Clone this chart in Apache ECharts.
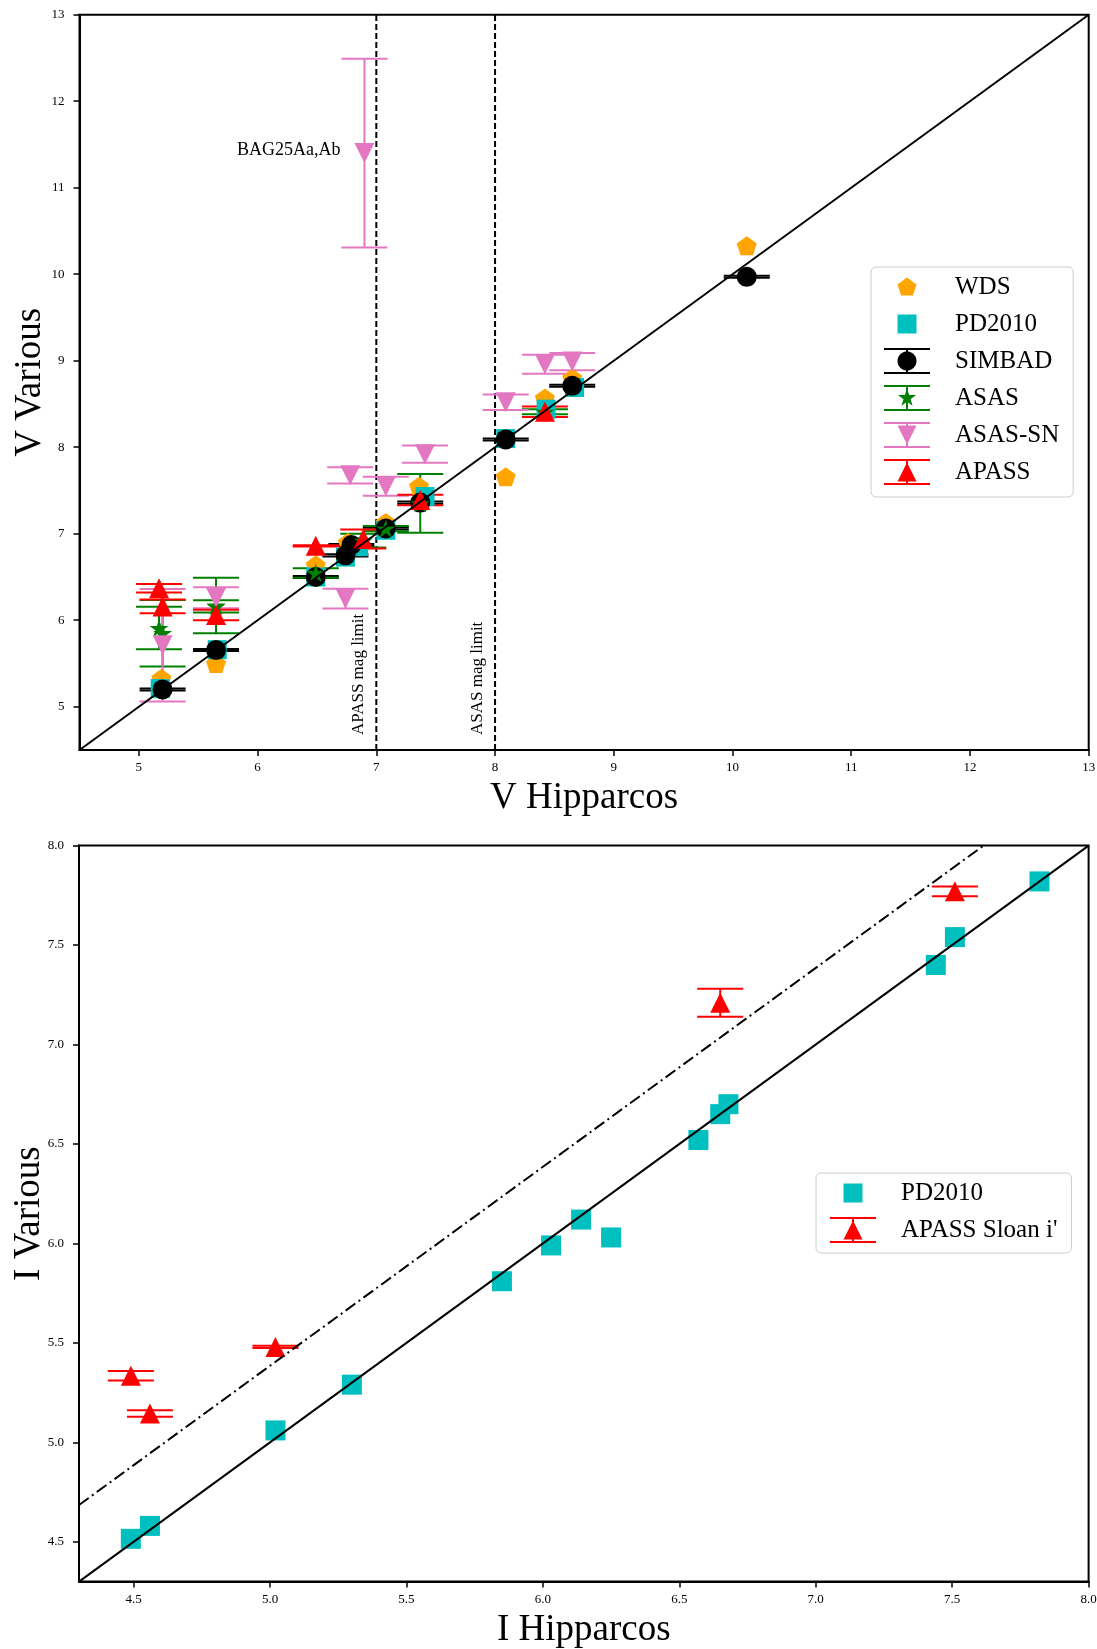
<!DOCTYPE html>
<html>
<head>
<meta charset="utf-8">
<script src="https://cdn.jsdelivr.net/npm/echarts@6/dist/echarts.min.js"></script>
<style>
html,body{margin:0;padding:0;background:#fff;}
#chart{width:1097px;height:1649px;}
</style>
</head>
<body>
<div id="chart"></div>
<script>
// ================= Top panel : V magnitudes =================
const vTicks = [5, 6, 7, 8, 9, 10, 11, 12, 13];
const vMin = 4.5, vMax = 13;

const wdsX = [5.19, 5.65, 6.49, 6.76, 7.08, 7.36, 8.09, 8.42, 8.65, 10.12];
const wdsY = [5.33, 5.50, 6.64, 6.90, 7.13, 7.55, 7.66, 8.57, 8.80, 10.33];

const pdX = [5.18, 5.66, 6.49, 6.74, 6.85, 7.08, 7.41, 8.09, 8.43, 8.67];
const pdY = [5.21, 5.66, 6.50, 6.73, 6.85, 7.04, 7.43, 8.10, 8.44, 8.69];

const simbadX = [5.20, 5.65, 6.49, 6.74, 6.79, 7.08, 7.37, 8.09, 8.65, 10.12];
const simbadY = [5.20, 5.655, 6.50, 6.75, 6.87, 7.06, 7.36, 8.09, 8.71, 9.97];
const simbadErr = [0.012, 0.012, 0.012, 0.012, 0.012, 0.012, 0.012, 0.012, 0.012, 0.012];

const asasX = [5.17, 5.20, 5.65, 5.65, 6.49, 6.89, 7.08, 7.37, 8.42];
const asasY = [5.91, 5.85, 6.17, 6.16, 6.545, 6.92, 7.06, 7.35, 8.41];
const asasErr = [0.245, 0.385, 0.32, 0.07, 0.055, 0.08, 0.03, 0.34, 0.03];

const asasSnX = [5.20, 5.65, 6.74, 6.78, 6.90, 7.08, 7.41, 8.09, 8.42, 8.65];
const asasSnY = [5.71, 6.26, 6.25, 7.675, 11.40, 7.55, 7.92, 8.52, 8.96, 8.99];
const asasSnErr = [0.65, 0.12, 0.115, 0.095, 1.09, 0.11, 0.10, 0.09, 0.11, 0.10];

const apassX = [5.17, 5.20, 5.65, 6.49, 6.89, 7.37, 8.42];
const apassY = [6.37, 6.16, 6.06, 6.86, 6.94, 7.39, 8.41];
const apassErr = [0.05, 0.08, 0.06, 0.008, 0.11, 0.06, 0.06];

const magLimits = [7, 8];
const magLimitLabels = ['APASS mag limit', 'ASAS mag limit'];
const noteLabel = 'BAG25Aa,Ab';
const noteIndex = 4;   // index of the ASAS-SN point that is annotated

// ================= Bottom panel : I magnitudes =================
const iTicks = [4.5, 5.0, 5.5, 6.0, 6.5, 7.0, 7.5, 8.0];
const iMin = 4.3, iMax = 8.0;

const iPdX = [4.49, 4.56, 5.02, 5.30, 5.85, 6.03, 6.14, 6.25, 6.57, 6.65, 6.68, 7.44, 7.51, 7.82];
const iPdY = [4.515, 4.58, 5.06, 5.29, 5.81, 5.99, 6.12, 6.03, 6.52, 6.65, 6.70, 7.40, 7.54, 7.82];

const iApassX = [4.49, 4.56, 5.02, 6.65, 7.51];
const iApassY = [5.335, 5.145, 5.48, 7.21, 7.77];
const iApassErr = [0.024, 0.016, 0.006, 0.07, 0.024];

const iOffset = 0.385;  // dash-dot reference line: y = x + offset

// ================= helpers =================
const FONT = 'Liberation Serif';
const CAP = 23;
const C = {wds:'#ffa500', pd:'#00bfbf', simbad:'#000000', asas:'#008000', asasSn:'#e377c2', apass:'#ff0000'};

function poly(pts){ return 'M' + pts.map(p => p[0].toFixed(2) + ' ' + p[1].toFixed(2)).join(' L') + ' Z'; }
function rectP(x0,y0,x1,y1){ return poly([[x0,y0],[x1,y0],[x1,y1],[x0,y1]]); }
function circleP(cx,cy,r){ const p=[]; for(let k=0;k<48;k++){const a=2*Math.PI*k/48; p.push([cx+r*Math.cos(a), cy+r*Math.sin(a)]);} return poly(p); }
function ngonP(cx,cy,r,n){ const p=[]; for(let k=0;k<n;k++){const a=-Math.PI/2+2*Math.PI*k/n; p.push([cx+r*Math.cos(a), cy+r*Math.sin(a)]);} return poly(p); }
function starP(cx,cy,ro,ri){ const p=[]; for(let k=0;k<10;k++){const a=-Math.PI/2+Math.PI*k/5; const r=k%2?ri:ro; p.push([cx+r*Math.cos(a), cy+r*Math.sin(a)]);} return poly(p); }
function triUpP(cx,cy,w,h){ return poly([[cx,cy-h/2],[cx+w/2,cy+h/2],[cx-w/2,cy+h/2]]); }
function triDownP(cx,cy,w,h){ return poly([[cx,cy+h/2],[cx-w/2,cy-h/2],[cx+w/2,cy-h/2]]); }

const PINS = 'M0 0 L0 0 Z M46 26 L46 26 Z ';
const BARS = rectP(0,0,46,2) + ' ' + rectP(0,24,46,26) + ' ' + rectP(22,0,24,26) + ' ';
const ICON = {
  wds: 'path://' + PINS + ngonP(23,13.5,10,5),
  pd: 'path://' + PINS + rectP(13.5,3.5,32.5,22.5),
  simbad: 'path://' + BARS + circleP(23,13,9.5),
  asas: 'path://' + BARS + starP(23,13,9.5,3.7),
  asasSn: 'path://' + BARS + triDownP(23,13,19,19),
  apass: 'path://' + BARS + triUpP(23,13,19,19)
};
const SYM = {
  pentagon: 'path://' + ngonP(0,0,10,5),
  star: 'path://' + starP(0,0,10,3.82)
};

function zip(xs, ys){ return xs.map((x,i) => [x, ys[i]]); }

function errorBars(name, xs, ys, es, color, gi){
  return {
    type:'custom', name, xAxisIndex:gi, yAxisIndex:gi, silent:true,
    itemStyle:{color},
    encode:{x:0, y:1},
    data: xs.map((x,i) => [x, ys[i], es[i]]),
    renderItem(params, api){
      const x = api.value(0), y = api.value(1), e = api.value(2);
      const t = api.coord([x, y + e]), b = api.coord([x, y - e]);
      const st = {stroke:color, lineWidth:2, fill:null};
      return {type:'group', children:[
        {type:'line', shape:{x1:t[0], y1:t[1], x2:b[0], y2:b[1]}, style:st},
        {type:'line', shape:{x1:t[0]-CAP, y1:t[1], x2:t[0]+CAP, y2:t[1]}, style:st},
        {type:'line', shape:{x1:b[0]-CAP, y1:b[1], x2:b[0]+CAP, y2:b[1]}, style:st}
      ]};
    }
  };
}
function markers(name, xs, ys, symbol, size, color, gi, rotate){
  return {
    type:'scatter', name, xAxisIndex:gi, yAxisIndex:gi, silent:true,
    symbol, symbolSize:size, symbolKeepAspect:true, symbolRotate: rotate || 0,
    itemStyle:{color, opacity:1},
    data: zip(xs, ys)
  };
}

function axisCommon(min, max, ticks, gi, name, decimals, isY){
  return {
    type:'value', gridIndex:gi, min, max,
    name, nameLocation:'middle', nameGap: isY ? 31 : 30, nameMoveOverlap:false,
    nameTextStyle:{fontFamily:FONT, fontSize:37, color:'#000'},
    axisLine:{show:true, onZero:false, lineStyle:{color:'#000', width:2}},
    axisTick:{show:true, inside:false, length:6, customValues:ticks, lineStyle:{color:'#000', width:1.5}},
    axisLabel:{show:true, customValues:ticks, margin: isY ? 15 : 11, fontFamily:FONT, fontSize:13, color:'#000',
      formatter: v => Number(v).toFixed(decimals)},
    splitLine:{show:false}
  };
}

const legendText = {fontFamily:FONT, fontSize:25, color:'#000', lineHeight:26, padding:[0,0,0,20]};
const legendBox = {orient:'vertical', itemWidth:46, itemHeight:26, itemGap:11,
  backgroundColor:'#ffffff', borderColor:'#cccccc', borderWidth:1, borderRadius:5,
  textStyle:legendText, itemStyle:{borderWidth:0}, selectedMode:false};

const option = {
  animation:false,
  backgroundColor:'#ffffff',
  grid:[
    {left:79.5, top:14.7, width:1009.2, height:735.3, show:true, borderColor:'#000', borderWidth:2,
     backgroundColor:'transparent', containLabel:false, outerBoundsMode:'none'},
    {left:79, top:845.6, width:1009.6, height:736, show:true, borderColor:'#000', borderWidth:2,
     backgroundColor:'transparent', containLabel:false, outerBoundsMode:'none'}
  ],
  xAxis:[
    axisCommon(vMin, vMax, vTicks, 0, 'V Hipparcos', 0, false),
    axisCommon(iMin, iMax, iTicks, 1, 'I Hipparcos', 1, false)
  ],
  yAxis:[
    axisCommon(vMin, vMax, vTicks, 0, 'V Various', 0, true),
    axisCommon(iMin, iMax, iTicks, 1, 'I Various', 1, true)
  ],
  legend:[
    Object.assign({}, legendBox, {left:871, top:267, padding:[7,14,12,13],
      data:[
        {name:'WDS', icon:ICON.wds},
        {name:'PD2010', icon:ICON.pd},
        {name:'SIMBAD', icon:ICON.simbad},
        {name:'ASAS', icon:ICON.asas},
        {name:'ASAS-SN', icon:ICON.asasSn},
        {name:'APASS', icon:ICON.apass}
      ]}),
    Object.assign({}, legendBox, {left:816, top:1173, padding:[7,14,10,14],
      data:[
        {name:'PD2010', icon:ICON.pd},
        {name:"APASS Sloan i'", icon:ICON.apass}
      ]})
  ],
  series:[
    // ---- top panel ----
    {type:'line', xAxisIndex:0, yAxisIndex:0, silent:true, showSymbol:false, symbol:'none',
     lineStyle:{color:'#000', width:2}, data:[[vMin, vMin],[vMax, vMax]]},
    {type:'custom', xAxisIndex:0, yAxisIndex:0, silent:true,
     data: magLimits.map(x => [x, vMin]),
     renderItem(params, api){
       const x = api.value(0);
       const b = api.coord([x, vMin]), t = api.coord([x, vMax]);
       return {type:'group', children:[
         {type:'line', shape:{x1:b[0], y1:b[1], x2:t[0], y2:t[1]}, style:{stroke:'#000', lineWidth:2, lineDash:[6,3]}},
         {type:'text', x:b[0]-18, y:b[1]-15, rotation:Math.PI/2,
          style:{text:magLimitLabels[params.dataIndex], fontFamily:FONT, fontSize:17, fill:'#000', align:'left', verticalAlign:'middle'}}
       ]};
     }},
    markers('WDS', wdsX, wdsY, SYM.pentagon, 20, C.wds, 0),
    markers('PD2010', pdX, pdY, 'rect', 19, C.pd, 0),
    errorBars('SIMBAD', simbadX, simbadY, simbadErr, C.simbad, 0),
    markers('SIMBAD', simbadX, simbadY, 'circle', 20, C.simbad, 0),
    errorBars('ASAS', asasX, asasY, asasErr, C.asas, 0),
    markers('ASAS', asasX, asasY, SYM.star, 19, C.asas, 0),
    errorBars('ASAS-SN', asasSnX, asasSnY, asasSnErr, C.asasSn, 0),
    markers('ASAS-SN', asasSnX, asasSnY, 'triangle', 20, C.asasSn, 0, 180),
    {type:'custom', xAxisIndex:0, yAxisIndex:0, silent:true,
     data:[[asasSnX[noteIndex], asasSnY[noteIndex]]],
     renderItem(params, api){
       const p = api.coord([api.value(0), api.value(1)]);
       return {type:'text', x:p[0]-24, y:p[1]-3,
         style:{text:noteLabel, fontFamily:FONT, fontSize:18, fill:'#000', align:'right', verticalAlign:'middle'}};
     }},
    errorBars('APASS', apassX, apassY, apassErr, C.apass, 0),
    markers('APASS', apassX, apassY, 'triangle', 20, C.apass, 0),
    // ---- bottom panel ----
    {type:'line', xAxisIndex:1, yAxisIndex:1, silent:true, showSymbol:false, symbol:'none',
     lineStyle:{color:'#000', width:2}, data:[[iMin, iMin],[iMax, iMax]]},
    {type:'line', xAxisIndex:1, yAxisIndex:1, silent:true, showSymbol:false, symbol:'none',
     lineStyle:{color:'#000', width:2, type:[12,4,2,4]}, data:[[iMin, iMin + iOffset],[iMax - iOffset, iMax]]},
    markers('PD2010', iPdX, iPdY, 'rect', 20, C.pd, 1),
    errorBars("APASS Sloan i'", iApassX, iApassY, iApassErr, C.apass, 1),
    markers("APASS Sloan i'", iApassX, iApassY, 'triangle', 20, C.apass, 1)
  ]
};

const chart = echarts.init(document.getElementById('chart'), null, {renderer:'canvas'});
chart.setOption(option);
</script>
</body>
</html>
